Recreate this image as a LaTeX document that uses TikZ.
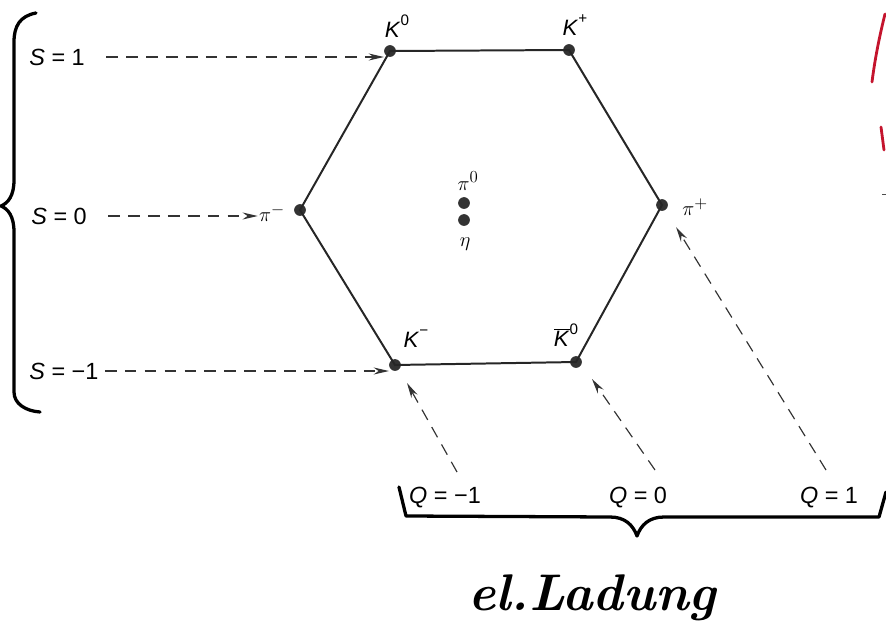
\documentclass[tikz,border=0pt]{standalone}
\usepackage{fontspec}
\setsansfont{Liberation Sans}
\usetikzlibrary{arrows.meta,calc}
\definecolor{inkred}{RGB}{196,20,45}
\newcommand{\hsup}[1]{\raisebox{0.55em}{\fontsize{13}{14}\selectfont #1}}
\tikzset{
  edge/.style={line width=1.7pt, black!85},
  dot/.style={circle, fill=black!80, inner sep=0pt, minimum size=10pt},
  lab/.style={font=\sffamily\fontsize{19}{21}\selectfont, inner sep=1pt},
  slab/.style={font=\sffamily\fontsize{20}{22}\selectfont, inner sep=1pt},
  glab/.style={font=\fontsize{19}{21}\selectfont, inner sep=1pt},
  darr/.style={dashed, dash pattern=on 10pt off 7pt, line width=1pt, black!80, -{Stealth[length=13pt,width=6pt]}},
  brace/.style={line width=2.8pt, black, line cap=round, line join=round},
  hand/.style={font=\bfseries\itshape\fontsize{44}{48}\selectfont, inner sep=0pt}
}
\begin{document}
\begin{tikzpicture}[x=0.03cm,y=-0.03cm]
\useasboundingbox (0,0) rectangle (886,638);
% vertices
\node[dot] (K0) at (390,51) {};
\node[dot] (Kp) at (569,50) {};
\node[dot] (pim) at (300,210) {};
\node[dot] (pip) at (662,205) {};
\node[dot] (Km) at (395,365) {};
\node[dot] (K0b) at (576,362) {};
\node[dot] (pi0) at (464,203) {};
\node[dot] (eta) at (464,220) {};
% hexagon
\draw[edge] (K0.center) -- (Kp.center) -- (pip.center) -- (K0b.center) -- (Km.center) -- (pim.center) -- cycle;
% labels
\node[lab] (lK0) at (397,26) {\textit{K}\hsup{0}};
\node[lab] (lKp) at (575,25) {\textit{K}\hsup{+}};
\node[glab] (lpim) at (272,213) {$\pi^{-}$};
\node[glab] (lpip) at (695,207) {$\pi^{+}$};
\node[glab] (lpi0) at (468,181) {$\pi^{0}$};
\node[glab] (leta) at (465,244) {$\eta$};
\node[lab] (lKm) at (416,339) {\textit{K}\hsup{\textminus}};
\node[lab] (lK0b) at (566,335) {$\overline{\mbox{\textit{K}}}$\hsup{0}};
% S labels
\node[slab,anchor=west] (S1) at (28,57) {\textit{S} = 1};
\node[slab,anchor=west] (S0) at (30,216) {\textit{S} = 0};
\node[slab,anchor=west] (Sm1) at (28,371) {\textit{S} = \textminus1};
\draw[darr] (S1.east) ++(20,0) coordinate (a1) (a1) -- (K0.west |- a1);
\draw[darr] (S0.east) ++(20,0) coordinate (a0) (a0) -- (lpim.west |- a0);
\draw[darr] (Sm1.east) ++(5,0) coordinate (am) (am) -- (Km.west |- am);
% Q labels
\node[slab,anchor=center] (Qm1) at (445,498) {\textit{Q} = \textminus1};
\node[slab,anchor=center] (Q0) at (638,498) {\textit{Q} = 0};
\node[slab,anchor=center] (Q1) at (829,498) {\textit{Q} = 1};
\coordinate (q1s) at (457,472);
\coordinate (q0s) at (655,470);
\coordinate (qps) at (826,470);
\draw[darr] (q1s) -- ($(Km)+(12,18)$);
\draw[darr] (q0s) -- ($(K0b)+(16,17)$);
\draw[darr] (qps) -- ($(pip)+(14,22)$);
% left brace
\draw[brace] (36,13) .. controls (20,16) and (14,26) .. (14,42) -- (14,180)
  .. controls (14,196) and (8,203) .. (1,206)
  .. controls (8,209) and (14,216) .. (14,232) -- (14,392)
  .. controls (14,404) and (26,411) .. (40,412);
% bottom brace
\draw[brace] (399,487) -- (406,516) -- (610,517)
  .. controls (625,517) and (633,525) .. (637,536)
  .. controls (641,525) and (649,517) .. (664,517) -- (879,517) -- (886,492);
% handwritten label
\node[hand] (lad) at (592,598) {el.Ladung};
% cut-off red handwriting at the right edge
\draw[inkred, line width=2.4pt, line cap=round] (885,14) .. controls (880,34) and (875,58) .. (872,82);
\draw[inkred, line width=2.4pt, line cap=round] (881,127) -- (884,150);
\draw[black!70, line width=0.8pt] (882,194) -- (886,194);
\end{tikzpicture}
\end{document}
